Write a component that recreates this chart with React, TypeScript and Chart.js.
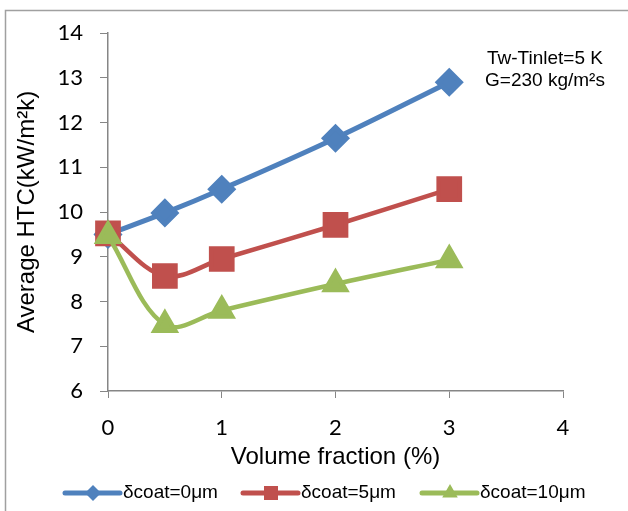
import React, { useEffect, useRef } from "react";
import { Chart, registerables } from "chart.js";

Chart.register(...registerables);

const volumeFraction = [0, 0.5, 1, 2, 3];
const coat0 = [9.5, 9.98, 10.51, 11.65, 12.9];
const coat5 = [9.52, 8.57, 8.95, 9.71, 10.51];
const coat10 = [9.47, 7.48, 7.8, 8.39, 8.93];
const seriesLabels = ["δcoat=0μm", "δcoat=5μm", "δcoat=10μm"];
const seriesColors = ["#4F81BD", "#C0504D", "#9BBB59"];
const annotationLines = ["Tw-Tinlet=5 K", "G=230 kg/m²s"];
const xTitle = "Volume fraction (%)";
const yTitle = "Average HTC(kW/m²k)";

const TEXT_FONT = "'Liberation Sans', Arial, sans-serif";
const NUM_FONT = "Lato, 'Open Sans', sans-serif";

function drawMarker(ctx: CanvasRenderingContext2D, style: string, x: number, y: number, r: number) {
  ctx.beginPath();
  if (style === "rectRot") {
    ctx.moveTo(x, y - r);
    ctx.lineTo(x + r, y);
    ctx.lineTo(x, y + r);
    ctx.lineTo(x - r, y);
  } else if (style === "rect") {
    ctx.rect(x - r, y - r, 2 * r, 2 * r);
  } else {
    ctx.moveTo(x, y - r);
    ctx.lineTo(x + r * 0.866, y + r * 0.5);
    ctx.lineTo(x - r * 0.866, y + r * 0.5);
  }
  ctx.closePath();
  ctx.fill();
}

const framePlugin = {
  id: "frame",
  beforeDraw(chart: any) {
    const ctx = chart.ctx;
    ctx.save();
    ctx.fillStyle = "#ffffff";
    ctx.fillRect(0, 0, chart.width, chart.height);
    ctx.strokeStyle = "#a0a0a0";
    ctx.lineWidth = 1.5;
    ctx.strokeRect(5.5, 10.5, chart.width + 20, chart.height + 20);
    ctx.restore();
  },
};

const extrasPlugin = {
  id: "extras",
  afterDraw(chart: any) {
    const ctx: CanvasRenderingContext2D = chart.ctx;
    ctx.save();
    // annotation
    ctx.fillStyle = "#000000";
    ctx.font = `19px ${TEXT_FONT}`;
    ctx.textAlign = "center";
    ctx.textBaseline = "middle";
    annotationLines.forEach((t, i) => {
      ctx.fillText(t, 545, 59 + i * 22);
    });
    // legend
    const legendX = [65, 243, 422];
    const legendY = 493;
    const markerR = [8, 7, 9];
    chart.data.datasets.forEach((ds: any, i: number) => {
      const x0 = legendX[i];
      ctx.strokeStyle = ds.borderColor;
      ctx.lineWidth = 5;
      ctx.lineCap = "round";
      ctx.beginPath();
      ctx.moveTo(x0, legendY);
      ctx.lineTo(x0 + 55, legendY);
      ctx.stroke();
      ctx.fillStyle = ds.borderColor;
      drawMarker(ctx, ds.pointStyle, x0 + 28, legendY, markerR[i]);
      ctx.fillStyle = "#000000";
      ctx.font = `19px ${TEXT_FONT}`;
      ctx.textAlign = "left";
      ctx.textBaseline = "middle";
      ctx.fillText(ds.label, x0 + 58, legendY);
    });
    ctx.restore();
  },
};

export default function App() {
  const ref = useRef<HTMLCanvasElement | null>(null);
  useEffect(() => {
    if (!ref.current) return;
    const mk = (vals: number[]) => vals.map((v, i) => ({ x: volumeFraction[i], y: v }));
    const chart = new Chart(ref.current, {
      type: "line",
      data: {
        datasets: [
          {
            label: seriesLabels[0],
            data: mk(coat0),
            borderColor: seriesColors[0],
            backgroundColor: seriesColors[0],
            borderWidth: 5,
            pointStyle: "rectRot",
            pointRadius: 11,
            pointHoverRadius: 11,
            tension: 0.35,
            clip: false,
            order: 2,
          },
          {
            label: seriesLabels[1],
            data: mk(coat5),
            borderColor: seriesColors[1],
            backgroundColor: seriesColors[1],
            borderWidth: 4.5,
            pointStyle: "rect",
            pointRadius: 15,
            pointHoverRadius: 15,
            tension: 0.35,
            clip: false,
            order: 1,
          },
          {
            label: seriesLabels[2],
            data: mk(coat10),
            borderColor: seriesColors[2],
            backgroundColor: seriesColors[2],
            borderWidth: 4.5,
            pointStyle: "triangle",
            pointRadius: 12,
            pointHoverRadius: 12,
            tension: 0.35,
            clip: false,
            order: 0,
          },
        ] as any,
      },
      options: {
        animation: false,
        responsive: false,
        maintainAspectRatio: false,
        events: [],
        layout: { padding: { left: 0, top: 33, right: 65, bottom: 39 } },
        plugins: {
          legend: { display: false },
          tooltip: { enabled: false },
          title: { display: false },
        },
        scales: {
          x: {
            type: "linear",
            min: 0,
            max: 4,
            ticks: {
              stepSize: 1,
              color: "#000000",
              font: { family: NUM_FONT, size: 22 },
              padding: 17,
            },
            grid: {
              drawOnChartArea: false,
              drawTicks: true,
              tickLength: 7,
              color: "#868686",
            },
            border: { display: true, color: "#868686", width: 1.5 },
            title: {
              display: true,
              text: xTitle,
              color: "#000000",
              font: { family: TEXT_FONT, size: 24 },
              padding: { top: 0, bottom: 0 },
            },
            afterFit(scale: any) {
              scale.height = 81;
            },
          },
          y: {
            type: "linear",
            min: 6,
            max: 14,
            ticks: {
              stepSize: 1,
              color: "#000000",
              font: { family: NUM_FONT, size: 22 },
              padding: 17,
            },
            grid: {
              drawOnChartArea: false,
              drawTicks: true,
              tickLength: 8,
              color: "#868686",
            },
            border: { display: true, color: "#868686", width: 1.5 },
            title: {
              display: true,
              text: yTitle,
              color: "#000000",
              font: { family: TEXT_FONT, size: 24 },
              padding: { top: 13, bottom: 0 },
            },
            afterFit(scale: any) {
              scale.width = 108;
            },
          },
        },
      } as any,
      plugins: [framePlugin, extrasPlugin],
    });
    return () => chart.destroy();
  }, []);
  return (
    <div style={{ position: "fixed", left: 0, top: 0, width: 628, height: 511, background: "#fff" }}>
      <canvas ref={ref} width={628} height={511} style={{ display: "block", width: 628, height: 511 }} />
    </div>
  );
}
